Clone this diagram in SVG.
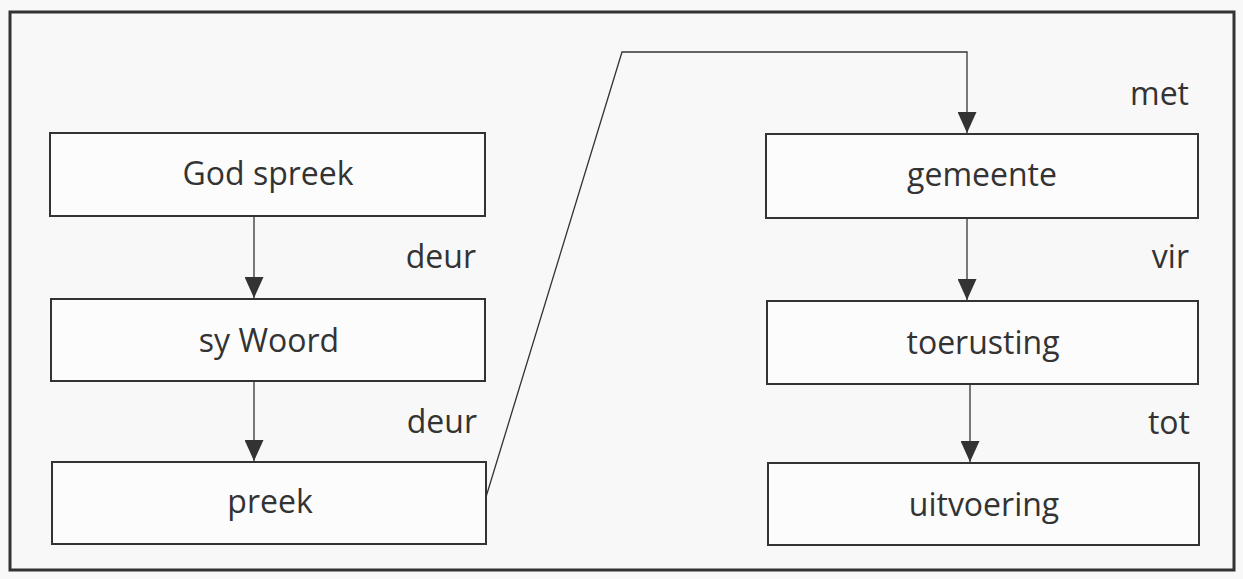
<svg xmlns="http://www.w3.org/2000/svg" width="1243" height="579" viewBox="0 0 1243 579">
<defs>
<style>
.bg{fill:#f8f8f8}
.frame{fill:none;stroke:#333;stroke-width:3}
.box{fill:#fcfcfc;stroke:#333;stroke-width:2}
.t{font-family:"Open Sans","Liberation Sans",sans-serif;font-size:32px;fill:#333;text-anchor:middle}
.lbl{font-family:"Open Sans","Liberation Sans",sans-serif;font-size:32px;fill:#333;text-anchor:end}
.conn{fill:none;stroke:#333;stroke-width:1.3}
</style>
<marker id="arr" viewBox="0 0 21 19" refX="21" refY="9.5" markerWidth="21" markerHeight="19" markerUnits="userSpaceOnUse" orient="auto">
<path d="M0,0 L21,9.5 L0,19 Z" fill="#333"/>
</marker>
</defs>
<rect class="bg" x="0" y="0" width="1243" height="579"/>
<rect class="frame" x="10" y="12" width="1224" height="558"/>
<g id="connectors">
<line class="conn" x1="254" y1="216" x2="254" y2="298" marker-end="url(#arr)"/>
<line class="conn" x1="254" y1="381" x2="254" y2="461" marker-end="url(#arr)"/>
<polyline class="conn" points="486,497 622,52 967,52 967,133" marker-end="url(#arr)"/>
<line class="conn" x1="967" y1="218" x2="967" y2="300" marker-end="url(#arr)"/>
<line class="conn" x1="970" y1="384" x2="970" y2="462" marker-end="url(#arr)"/>
</g>
<g id="labels">
<text class="lbl" x="476" y="268">deur</text>
<text class="lbl" x="477" y="433">deur</text>
<text class="lbl" x="1189" y="105">met</text>
<text class="lbl" x="1189" y="268">vir</text>
<text class="lbl" x="1190" y="434">tot</text>
</g>
<g id="n1"><rect class="box" x="50" y="133" width="435" height="83"/><text class="t" x="268" y="185">God spreek</text></g>
<g id="n2"><rect class="box" x="51" y="299" width="434" height="82"/><text class="t" x="269" y="352">sy Woord</text></g>
<g id="n3"><rect class="box" x="52" y="462" width="434" height="82"/><text class="t" x="270" y="513">preek</text></g>
<g id="n4"><rect class="box" x="766" y="134" width="432" height="84"/><text class="t" x="982" y="186">gemeente</text></g>
<g id="n5"><rect class="box" x="767" y="301" width="431" height="83"/><text class="t" x="983" y="354">toerusting</text></g>
<g id="n6"><rect class="box" x="768" y="463" width="431" height="82"/><text class="t" x="984" y="516">uitvoering</text></g>
</svg>
